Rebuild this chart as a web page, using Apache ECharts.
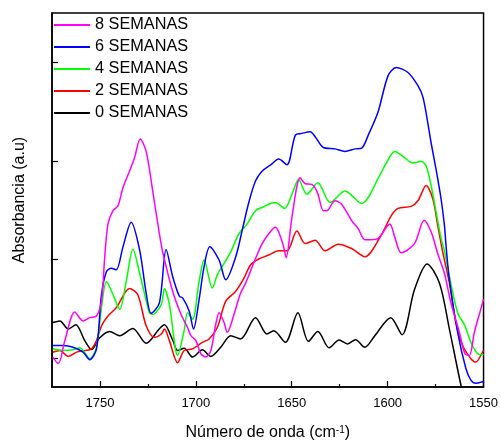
<!DOCTYPE html>
<html><head><meta charset="utf-8">
<script src="https://cdn.jsdelivr.net/npm/echarts@6/dist/echarts.min.js"></script>
<style>html,body{margin:0;padding:0;background:#fff}#c{width:501px;height:446px}</style>
</head><body><div id="c"></div>
<script>
const seriesNames = ['8 SEMANAS', '6 SEMANAS', '4 SEMANAS', '2 SEMANAS', '0 SEMANAS'];
const majorTicks = [1550, 1600, 1650, 1700, 1750];
const minorTicks = [1575, 1625, 1675, 1725];
const yTicks = [0, 1, 2, 3];

const s0 = [[1774.6,0.363],[1770.9,0.38],[1766.5,0.297],[1762.6,0.34],[1757.9,0.18],[1754.4,0.09],[1750.1,0.21],[1744.9,0.273],[1739.7,0.23],[1732.9,0.303],[1725.9,0.153],[1719.0,0.30],[1716.4,0.34],[1712.1,0.187],[1709.5,0.08],[1706.1,0.103],[1701.7,0.013],[1696.6,0.087],[1692.2,0.02],[1687.0,0.113],[1681.8,0.23],[1676.7,0.197],[1668.9,0.413],[1662.9,0.247],[1659.4,0.28],[1653.3,0.163],[1646.8,0.463],[1641.3,0.173],[1636.4,0.273],[1630.5,0.107],[1625.3,0.187],[1620.9,0.147],[1616.7,0.19],[1611.9,0.113],[1606.7,0.23],[1598.4,0.413],[1592.5,0.24],[1586.0,0.697],[1579.4,0.957],[1573.0,0.763],[1567.8,0.297],[1561.8,-0.27],[1558.3,-0.55],[1550,-1.0]];

const s2 = [[1774.6,0.063],[1770.9,0.08],[1766.5,0.02],[1762.2,0.063],[1757.9,0.08],[1754.4,0.097],[1751.8,0.18],[1749.2,0.33],[1745.8,0.43],[1741.5,0.513],[1734.6,0.707],[1730.3,0.647],[1725.9,0.33],[1721.6,0.213],[1718.0,0.247],[1716.4,0.297],[1713.8,0.18],[1709.5,-0.043],[1706.1,0.08],[1701.7,0.097],[1696.6,0.163],[1693.1,0.197],[1688.8,0.313],[1684.4,0.58],[1679.2,0.68],[1674.9,0.813],[1671.5,0.947],[1667.2,1.007],[1662.0,1.047],[1656.8,1.09],[1652.5,1.09],[1647.3,1.29],[1643.0,1.163],[1637.8,1.197],[1632.6,1.09],[1625.7,1.157],[1618.8,1.113],[1611.9,1.03],[1603.9,1.23],[1598.1,1.447],[1594.6,1.52],[1587.7,1.54],[1584.2,1.597],[1579.9,1.753],[1576.4,1.613],[1573.9,1.347],[1571.3,1.08],[1567.8,0.763],[1564.4,0.363],[1560.9,0.13],[1556.6,-0.003],[1554.0,-0.037],[1550.5,0.063],[1550,0.08]];

const s4 = [[1774.6,0.097],[1769.1,0.08],[1764.0,0.087],[1760.5,0.107],[1755.3,-0.003],[1751.8,0.113],[1749.2,0.513],[1746.6,0.78],[1743.2,0.647],[1739.7,0.497],[1736.3,0.78],[1732.8,1.107],[1729.3,0.863],[1724.2,0.463],[1722.5,0.447],[1718.0,0.547],[1716.4,0.705],[1713.8,0.547],[1709.5,0.03],[1706.1,0.28],[1704.3,0.463],[1701.7,0.397],[1698.3,0.78],[1695.7,0.997],[1691.4,0.713],[1688.8,0.847],[1684.4,0.99],[1681.8,1.08],[1677.5,1.263],[1673.2,1.363],[1668.9,1.497],[1664.6,1.537],[1661.0,1.57],[1658.5,1.58],[1653.7,1.52],[1649.9,1.663],[1646.4,1.813],[1642.1,1.663],[1636.4,1.78],[1630.0,1.58],[1622.2,1.697],[1613.6,1.57],[1603.9,1.863],[1600.7,1.98],[1596.3,2.097],[1592.0,2.047],[1586.8,1.98],[1582.5,1.997],[1579.9,1.947],[1577.3,1.747],[1574.7,1.48],[1572.1,1.213],[1570.4,1.09],[1567.8,0.83],[1563.5,0.463],[1559.7,0.33],[1556.6,0.163],[1553.1,0.047],[1550.5,0.037],[1550,0.04]];

const s6 = [[1774.6,0.13],[1769.1,0.13],[1764.0,0.113],[1758.8,0.063],[1755.3,-0.013],[1751.8,0.097],[1749.2,0.647],[1746.6,0.88],[1744.1,0.913],[1741.5,0.897],[1738.0,1.13],[1733.7,1.38],[1729.3,1.097],[1725.9,0.663],[1723.3,0.457],[1719.0,0.563],[1715.5,1.103],[1712.1,0.83],[1708.6,0.63],[1706.9,0.613],[1703.5,0.48],[1701.2,0.297],[1698.3,0.597],[1695.7,0.93],[1692.7,1.13],[1687.9,0.997],[1684.4,0.797],[1679.2,1.03],[1675.7,1.31],[1672.4,1.58],[1668.9,1.797],[1665.5,1.897],[1661.0,1.96],[1656.8,2.02],[1652.5,1.963],[1648.1,2.263],[1644.7,2.28],[1640.4,2.297],[1637.8,2.247],[1633.5,2.137],[1627.4,2.123],[1622.2,2.097],[1617.1,2.123],[1613.6,2.13],[1610.1,2.263],[1605.0,2.497],[1599.8,2.863],[1595.5,2.947],[1589.4,2.897],[1584.2,2.763],[1581.6,2.647],[1579.0,2.38],[1577.3,2.18],[1574.7,1.91],[1572.1,1.61],[1570.4,1.35],[1569.5,1.13],[1567.8,0.797],[1563.5,0.263],[1559.2,-0.103],[1556.6,-0.22],[1554.0,-0.253],[1550.5,-0.237],[1550,-0.23]];

const s8 = [[1774.6,0.013],[1771.7,-0.053],[1768.3,0.18],[1763.1,0.47],[1758.8,0.38],[1755.3,0.413],[1751.8,0.43],[1749.2,0.58],[1747.5,1.03],[1745.8,1.363],[1743.2,1.497],[1740.6,1.547],[1738.0,1.73],[1734.6,1.897],[1732.0,2.03],[1729.0,2.223],[1725.9,2.097],[1722.5,1.697],[1719.0,1.263],[1717.3,1.08],[1712.1,0.68],[1707.8,0.45],[1704.3,0.31],[1702.6,0.23],[1700.0,0.18],[1697.4,0.047],[1694.8,0.013],[1692.2,0.08],[1689.6,0.347],[1687.9,0.463],[1685.3,0.363],[1683.6,0.263],[1680.1,0.447],[1676.7,0.66],[1674.1,0.76],[1672.4,0.84],[1668.9,1.01],[1665.5,1.16],[1662.0,1.263],[1658.5,1.33],[1656.8,1.28],[1654.2,1.13],[1652.9,1.02],[1649.9,1.43],[1645.6,1.83],[1643.0,1.77],[1639.5,1.763],[1636.6,1.68],[1633.5,1.497],[1631.8,1.497],[1627.4,1.597],[1624.0,1.563],[1618.8,1.397],[1615.3,1.313],[1611.9,1.203],[1608.4,1.203],[1605.0,1.213],[1598.9,1.363],[1596.3,1.23],[1592.9,1.07],[1586.0,1.163],[1581.0,1.40],[1577.3,1.28],[1573.9,1.063],[1570.4,0.863],[1567.0,0.563],[1562.6,0.263],[1559.7,0.047],[1557.4,0.03],[1554.8,0.263],[1550.5,0.563],[1550,0.6]];

const colors = {'8 SEMANAS':'#ff00ff','6 SEMANAS':'#0000ff','4 SEMANAS':'#00ff00','2 SEMANAS':'#ff0000','0 SEMANAS':'#000000'};
const dataMap = {'8 SEMANAS':s8,'6 SEMANAS':s6,'4 SEMANAS':s4,'2 SEMANAS':s2,'0 SEMANAS':s0};
const drawOrder = ['0 SEMANAS','2 SEMANAS','4 SEMANAS','6 SEMANAS','8 SEMANAS'];
const FONT = 'Liberation Sans, Arial, sans-serif';

const chart = echarts.init(document.getElementById('c'), null, {renderer: 'canvas'});
chart.setOption({
  animation: false,
  grid: {left: 52, right: 15, top: 13, bottom: 54, show: true, borderColor: '#000', borderWidth: 1.5, backgroundColor: 'transparent'},
  legend: {
    data: seriesNames, orient: 'vertical', left: 54, top: 17, padding: 0,
    icon: 'rect', itemWidth: 36, itemHeight: 2, itemGap: 6,
    textStyle: {fontSize: 16.3, color: '#000', fontFamily: FONT, lineHeight: 16}
  },
  xAxis: [{
    type: 'value', min: 1550, max: 1775, inverse: true,
    name: 'Número de onda (cm{sup|-1})', nameLocation: 'middle', nameGap: 38,
    nameTextStyle: {fontSize: 16, color: '#000', fontFamily: FONT, rich: {sup: {fontSize: 10, verticalAlign: 'top', lineHeight: 16, fontFamily: FONT, color:'#000'}}},
    axisLine: {onZero: false, lineStyle: {color: '#000', width: 1.5}},
    axisTick: {inside: true, length: 6, customValues: majorTicks, lineStyle: {color: '#000', width: 1.2}},
    axisLabel: {customValues: majorTicks, fontSize: 13, color: '#000', fontFamily: FONT, margin: 10, formatter: v => String(v)},
    splitLine: {show: false}
  }, {
    type: 'value', min: 1550, max: 1775, inverse: true, position: 'bottom',
    axisLine: {show: false, onZero: false},
    axisTick: {inside: true, length: 3, customValues: minorTicks, lineStyle: {color: '#000', width: 1.2}},
    axisLabel: {show: false}, splitLine: {show: false}
  }],
  yAxis: {
    type: 'value', min: -0.29, max: 3.5,
    name: 'Absorbancia (a.u)', nameLocation: 'middle', nameGap: 24,
    nameTextStyle: {fontSize: 16, color: '#000', fontFamily: FONT},
    axisLine: {show: true, onZero: false, lineStyle: {color: '#000', width: 1.5}},
    axisTick: {show: true, inside: true, length: 6, customValues: yTicks, lineStyle: {color: '#000', width: 1.2}},
    axisLabel: {show: false},
    splitLine: {show: false}
  },
  series: drawOrder.map(n => ({
    name: n, type: 'line', data: dataMap[n], xAxisIndex: 0,
    showSymbol: false, symbol: 'none', smooth: 0.3,
    lineStyle: {color: colors[n], width: 1.5}, itemStyle: {color: colors[n]}
  }))
});
</script></body></html>
